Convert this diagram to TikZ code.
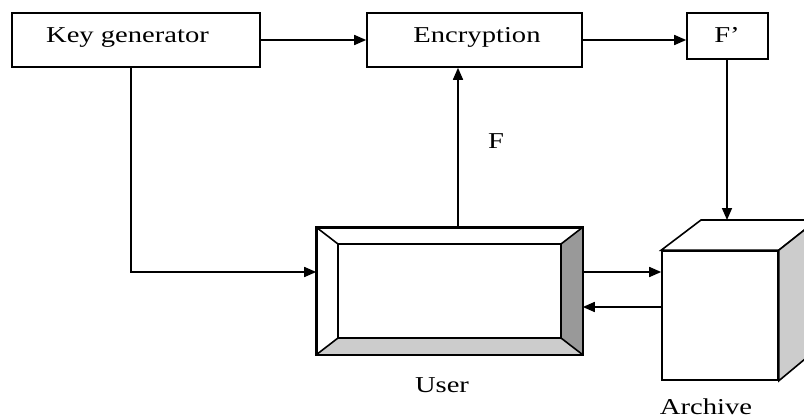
\documentclass[tikz,border=0pt]{standalone}
\usepackage{fontspec}
\setmainfont{Liberation Serif}[FakeStretch=1.26]
\usetikzlibrary{arrows.meta}
\tikzset{
  box/.style={draw, line width=1.6pt, inner sep=0pt, minimum width=#1},
  lbl/.style={anchor=base, inner sep=0pt, font=\fontsize{22.7}{26}\selectfont},
  conn/.style={line width=1.6pt},
  arr/.style={conn, -{Triangle[length=12pt,width=10pt]}},
  edge/.style={line width=1.6pt},
}
\begin{document}
\begin{tikzpicture}[x=1pt,y=-1pt]
\useasboundingbox (0,0) rectangle (804,420);
\clip (0,0) rectangle (804,420);
% top boxes
\node[box=248, minimum height=54] (keygen) at (136,40) {};
\node[box=215, minimum height=54] (enc) at (474.5,40) {};
\node[box=81, minimum height=46] (fprime) at (727.5,36) {};
\node[lbl] (tkey) at (127.5,43) {Key generator};
\node[lbl] (tenc) at (477,43) {Encryption};
\node[lbl] (tfp) at (727,43) {F’};
% user bevel box
\node[draw, edge, minimum width=265, minimum height=126, inner sep=0pt] (user) at (449.5,291) {};
\fill[gray!80] (user.north east) -- (561,244) -- (561,338) -- (user.south east) -- cycle;
\fill[gray!40] (user.south west) -- (338,338) -- (561,338) -- (user.south east) -- cycle;
\draw[edge] (338,244) rectangle (561,338);
\draw[edge] (user.north west) -- (338,244);
\draw[edge] (user.north east) -- (561,244);
\draw[edge] (user.south west) -- (338,338);
\draw[edge] (user.south east) -- (561,338);
\draw[edge] (user.north west) rectangle (user.south east);
\node[lbl] (tuser) at (442,392) {User};
% archive cube
\node[draw, edge, minimum width=116, minimum height=129, inner sep=0pt] (archive) at (720,315.5) {};
\draw[edge, fill=white] (archive.north west) -- (701,220) -- (817,220) -- (archive.north east) -- cycle;
\draw[edge, fill=gray!40] (archive.north east) -- (817,220) -- (817,349) -- (archive.south east) -- cycle;
\node[lbl] (tarch) at (706,414) {Archive};
% connectors
\coordinate (fx) at (458,0);
\coordinate (kx) at (131,0);
\coordinate (ky) at (0,272);
\coordinate (ly) at (0,307);
\coordinate (archtop) at (727,220);
\draw[arr] (keygen.east) -- (enc.west);
\draw[arr] (enc.east) -- (enc.east -| fprime.west);
\draw[arr] (fprime.south -| archtop) -- (archtop);
\draw[arr] (user.north -| fx) -- (enc.south -| fx);
\node[lbl] (tf) at (496,148) {F};
\draw[arr] (keygen.south -| kx) |- (user.west |- ky);
\draw[arr] (user.east |- ky) -- (archive.west |- ky);
\draw[arr] (archive.west |- ly) -- (user.east |- ly);
\end{tikzpicture}
\end{document}
